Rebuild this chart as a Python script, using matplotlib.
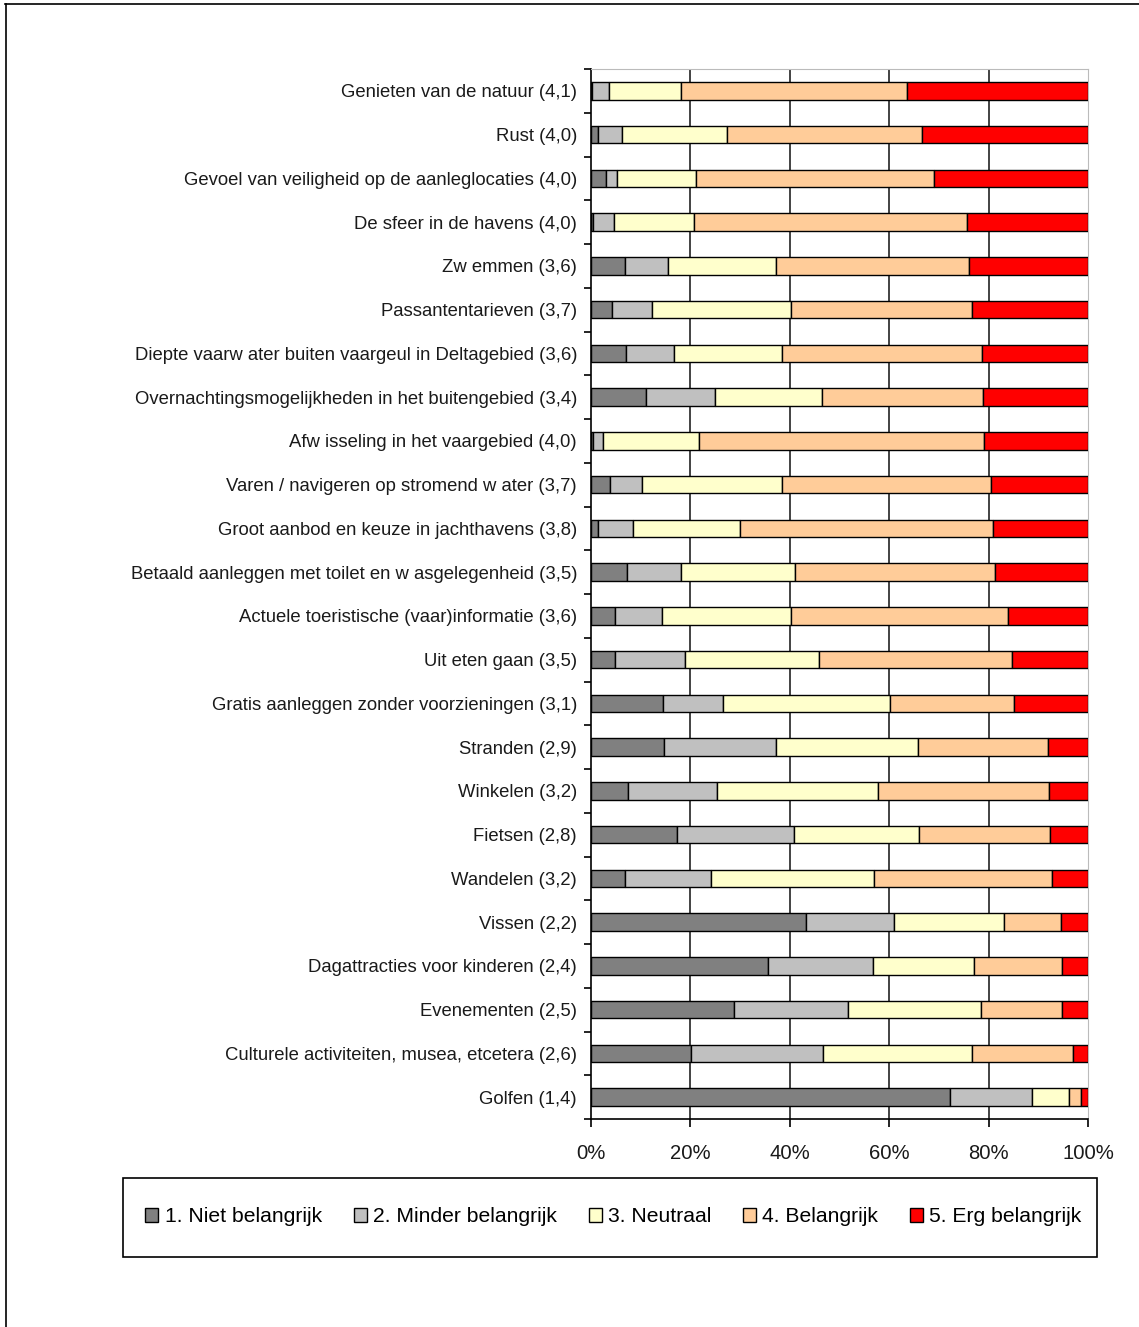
import matplotlib
matplotlib.use("Agg")
import matplotlib.pyplot as plt
import numpy as np
from matplotlib.lines import Line2D
from matplotlib.patches import Patch, Rectangle

plt.rcParams['font.family'] = ['Liberation Sans', 'DejaVu Sans']

categories = [
    "Genieten van de natuur (4,1)",
    "Rust (4,0)",
    "Gevoel van veiligheid op de aanleglocaties (4,0)",
    "De sfeer in de havens (4,0)",
    "Zw emmen (3,6)",
    "Passantentarieven (3,7)",
    "Diepte vaarw ater buiten vaargeul in Deltagebied (3,6)",
    "Overnachtingsmogelijkheden in het buitengebied (3,4)",
    "Afw isseling in het vaargebied (4,0)",
    "Varen / navigeren op stromend w ater (3,7)",
    "Groot aanbod en keuze in jachthavens (3,8)",
    "Betaald aanleggen met toilet en w asgelegenheid (3,5)",
    "Actuele toeristische (vaar)informatie (3,6)",
    "Uit eten gaan (3,5)",
    "Gratis aanleggen zonder voorzieningen (3,1)",
    "Stranden (2,9)",
    "Winkelen (3,2)",
    "Fietsen (2,8)",
    "Wandelen (3,2)",
    "Vissen (2,2)",
    "Dagattracties voor kinderen (2,4)",
    "Evenementen (2,5)",
    "Culturele activiteiten, musea, etcetera (2,6)",
    "Golfen (1,4)",
]

niet = [0.3, 1.4, 3.0, 0.5, 6.9, 4.2, 7.1, 11.1, 0.5, 3.8, 1.4, 7.2,
        4.8, 4.8, 14.4, 14.7, 7.5, 17.4, 6.9, 43.3, 35.7, 28.7, 20.2, 72.2]
minder = [3.3, 4.9, 2.3, 4.2, 8.5, 8.1, 9.7, 13.9, 1.9, 6.4, 7.0, 10.9,
          9.4, 14.2, 12.2, 22.5, 17.9, 23.4, 17.3, 17.6, 21.0, 23.1, 26.5, 16.6]
neutraal = [14.6, 21.1, 15.8, 16.1, 21.8, 27.9, 21.6, 21.5, 19.4, 28.2, 21.5, 23.0,
            26.0, 26.9, 33.6, 28.5, 32.3, 25.2, 32.8, 22.2, 20.3, 26.7, 30.0, 7.3]
belangrijk = [45.4, 39.2, 47.9, 54.9, 38.8, 36.4, 40.3, 32.4, 57.2, 42.1, 50.9, 40.1,
              43.7, 38.9, 24.9, 26.3, 34.4, 26.4, 35.7, 11.5, 17.8, 16.3, 20.3, 2.4]
erg = [36.4, 33.4, 31.0, 24.3, 24.0, 23.4, 21.3, 21.1, 21.0, 19.5, 19.2, 18.8,
       16.1, 15.2, 14.9, 8.0, 7.9, 7.6, 7.3, 5.4, 5.2, 5.2, 3.0, 1.5]

series_names = ["1. Niet belangrijk", "2. Minder belangrijk", "3. Neutraal",
                "4. Belangrijk", "5. Erg belangrijk"]
colors = ["#808080", "#C0C0C0", "#FFFFCC", "#FFCC99", "#FF0000"]

W, H = 1139, 1327
fig = plt.figure(figsize=(W / 100, H / 100), dpi=100)
ax = fig.add_axes([591 / W, 1 - 1119 / H, 497 / W, 1050 / H])

y = np.arange(len(categories))
left = np.zeros(len(categories))
for vals, col, name in zip([niet, minder, neutraal, belangrijk, erg], colors, series_names):
    ax.barh(y, vals, left=left, height=0.40, color=col, edgecolor="black",
            linewidth=1.0, label=name, zorder=3)
    left += np.array(vals)

ax.set_xlim(0, 100)
ax.set_ylim(len(categories) - 0.5, -0.5)

for gx in [20, 40, 60, 80]:
    ax.axvline(gx, color="#222222", linewidth=1.2, zorder=1)

ax.set_yticks(y)
ax.set_yticklabels(categories, fontsize=13.3, color="#1a1a1a")
ax.tick_params(axis="y", which="major", length=0, pad=10)
ax.set_yticks(np.arange(len(categories) + 1) - 0.5, minor=True)
ax.tick_params(axis="y", which="minor", length=5, width=1.2, direction="out")

ax.set_xticks([0, 20, 40, 60, 80, 100])
ax.set_xticklabels(["0%", "20%", "40%", "60%", "80%", "100%"], fontsize=14.6, color="#1a1a1a")
ax.tick_params(axis="x", length=6, width=1.2, direction="out", pad=12)

ax.spines["left"].set_color("black")
ax.spines["left"].set_linewidth(1.2)
ax.spines["bottom"].set_color("black")
ax.spines["bottom"].set_linewidth(1.2)
ax.spines["top"].set_color("#BBBBBB")
ax.spines["right"].set_color("#BBBBBB")

# legend box drawn separately so its size can match the original
fig.add_artist(Rectangle((123 / W, 1 - 1257 / H), 974 / W, 79 / H, transform=fig.transFigure,
                         facecolor="none", edgecolor="black", linewidth=1.2))
handles = [Patch(facecolor=c, edgecolor="black", linewidth=1.0) for c in colors]
leg = fig.legend(handles, series_names, loc="center",
                 bbox_to_anchor=(613.5 / W, 1 - 1217 / H), ncol=5,
                 fontsize=15.2, frameon=False,
                 handlelength=0.62, handleheight=0.62, handletextpad=0.3,
                 columnspacing=1.5, borderpad=0.2)

# outer frame of the chart area
fig.add_artist(Line2D([5 / W, 1], [1 - 4 / H, 1 - 4 / H], color="black", linewidth=1.2))
fig.add_artist(Line2D([6 / W, 6 / W], [0, 1 - 4 / H], color="black", linewidth=1.2))

fig.savefig("out.png", dpi=100)
